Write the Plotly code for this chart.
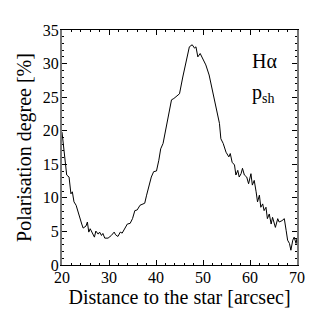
import plotly.graph_objects as go

# Abstand zum Stern [arcsec] und Polarisationsgrad [%]
dist = [20.0, 20.3, 20.6, 21.0, 21.5, 21.9, 22.2, 22.55, 23.0, 23.5, 24.2, 24.5, 25.1, 25.4,
        25.7, 26.0, 26.5, 26.9, 27.2, 27.7, 28.0, 28.4, 28.7, 29.1, 29.8, 30.5, 31.1,
        31.4, 31.9, 32.4, 32.8, 33.4, 33.9, 34.5, 35.0, 35.5, 36.0, 36.6, 37.1, 37.6,
        38.0, 38.6, 39.0, 39.5, 40.1, 40.6, 41.0, 41.5, 41.9, 42.4, 42.8, 43.3, 43.8,
        44.4, 45.0, 45.7, 46.3, 46.8, 47.1, 47.7, 48.2, 48.5, 48.9, 49.4, 49.9, 50.6,
        51.3, 52.0, 52.8, 53.5, 53.8, 54.3, 54.9, 55.5, 55.8, 56.2, 56.7, 57.0, 57.4,
        57.7, 58.1, 58.4, 58.8, 59.3, 59.7, 60.2, 60.5, 60.9, 61.3, 61.6, 62.0, 62.3,
        62.7, 63.0, 63.4, 63.7, 64.1, 64.5, 64.8, 65.4, 65.9, 66.2, 66.8, 67.3, 67.7,
        68.0, 68.4, 68.7, 69.1, 69.4, 69.8, 70.0]
pol = [19.8, 18.0, 16.1, 13.4, 13.1, 10.6, 10.9, 9.4, 8.9, 7.6, 6.1, 5.5, 5.8, 6.4,
       4.9, 5.4, 4.75, 4.15, 5.05, 4.6, 4.9, 4.4, 4.7, 4.0, 4.0, 4.4, 4.9,
       4.5, 4.25, 4.9, 4.75, 5.4, 6.1, 6.2, 6.9, 8.1, 8.2, 8.9, 9.1, 9.2,
       10.4, 12.1, 13.1, 13.9, 14.0, 15.6, 17.3, 18.1, 19.6, 21.8, 22.8, 24.6, 24.8,
       25.1, 25.5, 28.0, 30.0, 31.3, 32.5, 32.8, 32.3, 32.5, 31.0, 31.5, 30.8, 29.8,
       28.3, 26.0, 23.6, 21.1, 18.8, 18.1, 16.8, 16.1, 16.6, 15.3, 14.9, 13.4, 14.1,
       13.1, 13.6, 14.4, 13.4, 13.1, 12.1, 13.6, 11.9, 12.6, 10.9, 9.4, 10.4, 8.6,
       9.1, 8.1, 8.6, 6.9, 7.6, 6.1, 7.1, 5.6, 6.9, 6.4, 6.6, 6.9, 5.1,
       3.7, 3.2, 2.2, 3.7, 4.15, 3.2, 4.0]

serif = "Liberation Serif, Times New Roman, serif"

fig = go.Figure()
fig.add_trace(go.Scatter(x=dist, y=pol, mode="lines",
                         line=dict(color="black", width=1), showlegend=False))

# Seite hat 8px Rand -> Ränder entsprechend verschoben
fig.update_layout(
    width=327, height=327,
    margin=dict(l=54, r=38, t=22, b=70),
    paper_bgcolor="white", plot_bgcolor="white",
    font=dict(family=serif, size=16, color="black"),
)
fig.update_xaxes(range=[20, 70], dtick=10, ticks="inside", ticklen=5, tickcolor="black",
                 showline=True, linecolor="black", linewidth=1, mirror="ticks",
                 showgrid=False, zeroline=False, automargin=False, ticklabelstandoff=-2,
                 minor=dict(ticks="inside", dtick=2, ticklen=2, tickcolor="black"),
                 title=dict(text="Distance to the star [arcsec]", font=dict(size=20), standoff=0))
fig.update_yaxes(range=[0, 35], dtick=5, ticks="inside", ticklen=5, tickcolor="black",
                 showline=True, linecolor="#777777", linewidth=2, mirror="ticks",
                 showgrid=False, zeroline=False, automargin=False, ticklabelstandoff=-2,
                 minor=dict(ticks="inside", dtick=1, ticklen=2, tickcolor="black"),
                 title=dict(text="Polarisation degree [%]", font=dict(size=20), standoff=6))

fig.add_annotation(x=0.80, y=0.925, xref="paper", yref="paper", xanchor="left",
                   text="Hα", showarrow=False, font=dict(size=20))
fig.add_annotation(x=0.80, y=0.79, xref="paper", yref="paper", xanchor="left",
                   text="p<sub>sh</sub>", showarrow=False, font=dict(size=20))

fig.write_html("out.html")
